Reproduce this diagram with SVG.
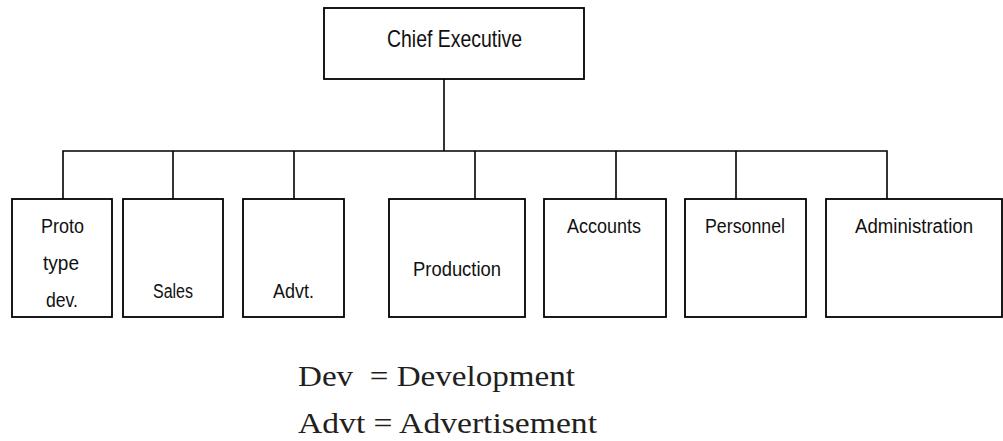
<svg xmlns="http://www.w3.org/2000/svg" width="1003" height="441" viewBox="0 0 1003 441">
<style>
.box{fill:#fff;stroke:#000;stroke-width:1.8}
.lbl{font-family:"Liberation Sans",Arial,sans-serif;font-size:20px;fill:#111;text-anchor:middle}
.conn{fill:none;stroke:#000;stroke-width:1.6}
.leg{font-family:"Liberation Serif","Times New Roman",serif;font-size:30px;fill:#231f20}
</style>
<rect width="1003" height="441" fill="#fff"/>
<g id="connectors">
<line class="conn" x1="444" y1="79" x2="444" y2="151"/>
<polyline class="conn" points="63,199 63,151 887,151 887,199"/>
<line class="conn" x1="173" y1="151" x2="173" y2="199"/>
<line class="conn" x1="294" y1="151" x2="294" y2="199"/>
<line class="conn" x1="475" y1="151" x2="475" y2="199"/>
<line class="conn" x1="616" y1="151" x2="616" y2="199"/>
<line class="conn" x1="736" y1="151" x2="736" y2="199"/>
</g>
<g id="chief">
<rect class="box" x="324" y="8" width="260" height="71"/>
<text class="lbl" x="454.5" y="47" style="font-size:24px" textLength="135" lengthAdjust="spacingAndGlyphs">Chief Executive</text>
</g>
<g id="proto">
<rect class="box" x="12" y="199" width="100" height="118"/>
<text class="lbl" x="62.5" y="233" textLength="43" lengthAdjust="spacingAndGlyphs">Proto</text>
<text class="lbl" x="61" y="270" textLength="36" lengthAdjust="spacingAndGlyphs">type</text>
<text class="lbl" x="62" y="307" textLength="32" lengthAdjust="spacingAndGlyphs">dev.</text>
</g>
<g id="sales">
<rect class="box" x="123" y="199" width="100" height="118"/>
<text class="lbl" x="173" y="298" textLength="40" lengthAdjust="spacingAndGlyphs">Sales</text>
</g>
<g id="advt">
<rect class="box" x="243" y="199" width="101" height="118"/>
<text class="lbl" x="293.5" y="298" textLength="41" lengthAdjust="spacingAndGlyphs">Advt.</text>
</g>
<g id="production">
<rect class="box" x="389" y="199" width="136" height="118"/>
<text class="lbl" x="457" y="276" textLength="88" lengthAdjust="spacingAndGlyphs">Production</text>
</g>
<g id="accounts">
<rect class="box" x="544" y="199" width="122" height="118"/>
<text class="lbl" x="604" y="233" textLength="74" lengthAdjust="spacingAndGlyphs">Accounts</text>
</g>
<g id="personnel">
<rect class="box" x="685" y="199" width="121" height="118"/>
<text class="lbl" x="745" y="233" textLength="80" lengthAdjust="spacingAndGlyphs">Personnel</text>
</g>
<g id="administration">
<rect class="box" x="826" y="199" width="176" height="118"/>
<text class="lbl" x="914" y="233" textLength="118" lengthAdjust="spacingAndGlyphs">Administration</text>
</g>
<g id="legend">
<text class="leg" x="298" y="386" xml:space="preserve" textLength="277" lengthAdjust="spacingAndGlyphs">Dev  = Development</text>
<text class="leg" x="298" y="433" textLength="299" lengthAdjust="spacingAndGlyphs">Advt = Advertisement</text>
</g>
</svg>
